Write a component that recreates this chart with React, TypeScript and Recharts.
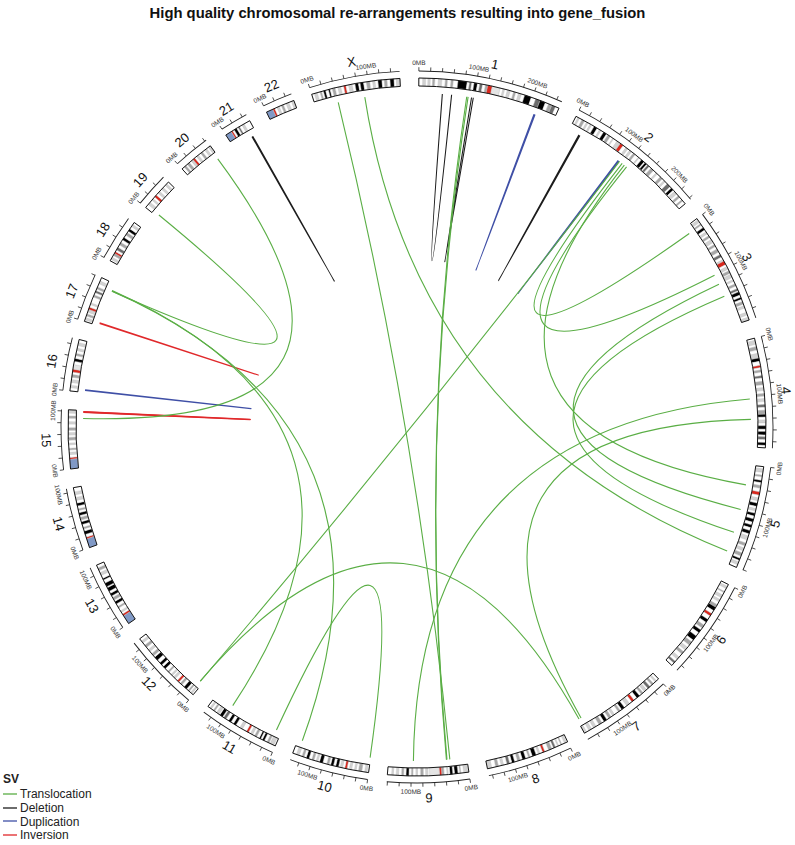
import React from 'react'
import { PieChart, Pie, Cell, Customized } from 'recharts'

const chromosomes = ['1', '2', '3', '4', '5', '6', '7', '8', '9', '10', '11', '12', '13', '14', '15', '16', '17', '18', '19', '20', '21', '22', 'X']
const chromosomeSizes = [249.25, 243.2, 198.0, 191.15, 180.9, 171.1, 159.1, 146.4, 141.2, 135.5, 135.0, 133.85, 115.2, 107.35, 102.5, 90.35, 81.2, 78.1, 59.1, 63.0, 48.1, 51.3, 155.3]

// band end (MB) + stain, one list per chromosome
const cytobands: [number, string][][] = [
  [[7,'n'],[12,'l'],[16,'n'],[20,'l'],[24,'n'],[28,'m'],[34,'n'],[40,'l'],[46,'n'],[50,'m'],[56,'n'],[60,'m'],[68,'n'],[84,'k'],[88,'n'],[92,'d'],[96,'n'],[102,'k'],[106,'n'],[111,'d'],[116,'n'],[120,'m'],[128,'c'],[142,'v'],[147,'n'],[150,'l'],[155,'n'],[160,'l'],[166,'n'],[170,'m'],[175,'n'],[180,'l'],[186,'n'],[198,'k'],[206,'n'],[214,'d'],[224,'k'],[230,'n'],[236,'m'],[243,'d'],[249.25,'n']],
  [[4,'n'],[7,'l'],[12,'n'],[17,'m'],[21,'n'],[24,'l'],[28,'n'],[31,'l'],[36,'n'],[42,'k'],[47,'n'],[50,'l'],[55,'n'],[61,'k'],[64,'n'],[69,'m'],[74,'n'],[76,'l'],[83,'n'],[90,'l'],[96,'c'],[102,'n'],[106,'l'],[110,'n'],[114,'l'],[118,'n'],[122,'m'],[129,'n'],[131,'l'],[136,'n'],[142,'k'],[144,'n'],[148,'k'],[150,'n'],[154,'d'],[158,'n'],[164,'m'],[170,'n'],[173,'l'],[180,'n'],[185,'m'],[189,'n'],[192,'l'],[197,'n'],[204,'d'],[207,'n'],[212,'k'],[215,'n'],[221,'l'],[225,'n'],[229,'m'],[234,'n'],[237,'m'],[243.2,'n']],
  [[3,'n'],[8,'l'],[11,'n'],[14,'m'],[19,'n'],[24,'k'],[28,'n'],[32,'l'],[36,'n'],[40,'m'],[44,'n'],[50,'l'],[54,'n'],[58,'m'],[63,'n'],[69,'m'],[74,'n'],[79,'d'],[84,'n'],[87,'l'],[94,'c'],[98,'n'],[103,'l'],[106,'n'],[111,'m'],[113,'n'],[119,'l'],[123,'n'],[126,'l'],[131,'n'],[135,'m'],[140,'n'],[144,'d'],[146,'n'],[152,'k'],[156,'n'],[160,'k'],[164,'n'],[169,'m'],[172,'n'],[176,'l'],[184,'n'],[189,'l'],[193,'n'],[198,'l']],
  [[4,'n'],[11,'l'],[15,'n'],[21,'m'],[27,'n'],[35,'l'],[41,'k'],[48,'n'],[52,'c'],[56,'n'],[60,'m'],[66,'n'],[70,'d'],[76,'n'],[82,'m'],[87,'n'],[92,'l'],[97,'n'],[102,'m'],[106,'n'],[111,'l'],[116,'n'],[121,'d'],[126,'n'],[133,'m'],[138,'k'],[143,'n'],[148,'l'],[153,'n'],[159,'k'],[163,'n'],[169,'k'],[172,'n'],[177,'d'],[182,'n'],[187,'k'],[191.15,'n']],
  [[4,'n'],[10,'l'],[15,'n'],[18,'m'],[24,'n'],[28,'k'],[33,'n'],[38,'m'],[44,'n'],[50,'c'],[55,'n'],[60,'l'],[64,'n'],[70,'k'],[74,'n'],[78,'l'],[82,'n'],[87,'k'],[92,'n'],[98,'k'],[103,'n'],[108,'k'],[113,'n'],[119,'k'],[123,'n'],[130,'l'],[136,'n'],[141,'m'],[145,'n'],[150,'l'],[154,'n'],[160,'m'],[164,'n'],[168,'k'],[171,'n'],[176,'l'],[180.9,'n']],
  [[4,'n'],[8,'l'],[14,'n'],[16,'m'],[21,'n'],[26,'l'],[30,'n'],[34,'l'],[40,'n'],[45,'m'],[52,'k'],[58,'n'],[63,'c'],[70,'n'],[76,'k'],[82,'n'],[88,'m'],[92,'n'],[98,'k'],[105,'n'],[114,'k'],[118,'n'],[125,'m'],[130,'n'],[136,'l'],[140,'n'],[145,'m'],[152,'n'],[157,'l'],[162,'n'],[166,'d'],[171.1,'n']],
  [[5,'n'],[8,'l'],[12,'n'],[16,'m'],[20,'n'],[25,'d'],[28,'n'],[33,'l'],[36,'n'],[40,'m'],[44,'n'],[50,'k'],[56,'n'],[61,'c'],[66,'n'],[72,'l'],[77,'n'],[83,'k'],[86,'n'],[90,'m'],[98,'n'],[102,'l'],[105,'n'],[110,'m'],[114,'n'],[120,'k'],[124,'n'],[130,'m'],[136,'n'],[141,'l'],[145,'n'],[150,'l'],[155,'n'],[159.1,'l']],
  [[2,'n'],[6,'l'],[11,'n'],[13,'m'],[17,'n'],[19,'l'],[23,'n'],[27,'d'],[30,'n'],[36,'m'],[43,'n'],[47,'c'],[52,'n'],[55,'l'],[59,'n'],[66,'k'],[70,'n'],[73,'m'],[78,'n'],[84,'k'],[88,'n'],[93,'m'],[98,'n'],[103,'k'],[107,'n'],[112,'d'],[118,'n'],[122,'l'],[127,'n'],[132,'m'],[139,'n'],[146.4,'l']],
  [[2,'n'],[9,'l'],[14,'n'],[16,'m'],[19,'n'],[25,'k'],[28,'n'],[33,'k'],[36,'n'],[38,'l'],[43,'n'],[47,'m'],[51,'c'],[68,'v'],[71,'n'],[75,'l'],[79,'n'],[84,'m'],[89,'n'],[92,'l'],[97,'n'],[100,'m'],[104,'n'],[109,'k'],[113,'n'],[117,'m'],[122,'n'],[126,'l'],[131,'n'],[134,'l'],[141.2,'n']],
  [[3,'n'],[7,'l'],[12,'n'],[18,'m'],[22,'n'],[25,'l'],[30,'n'],[34,'l'],[38,'n'],[42,'c'],[46,'n'],[50,'l'],[53,'n'],[58,'k'],[62,'n'],[67,'k'],[70,'n'],[74,'m'],[81,'n'],[87,'k'],[90,'n'],[93,'l'],[97,'n'],[101,'m'],[106,'n'],[111,'k'],[115,'n'],[119,'m'],[124,'n'],[129,'l'],[135.5,'n']],
  [[3,'n'],[10,'l'],[12,'n'],[16,'m'],[21,'n'],[25,'k'],[28,'n'],[31,'k'],[36,'n'],[40,'m'],[44,'n'],[48,'l'],[52,'n'],[56,'c'],[64,'n'],[69,'l'],[77,'n'],[82,'k'],[87,'n'],[92,'k'],[97,'n'],[102,'d'],[104,'n'],[110,'k'],[112,'n'],[117,'l'],[121,'n'],[124,'m'],[128,'n'],[131,'l'],[135,'n']],
  [[3,'n'],[6,'l'],[9,'n'],[12,'m'],[15,'n'],[21,'k'],[26,'n'],[30,'m'],[33,'n'],[37,'c'],[42,'n'],[46,'l'],[49,'n'],[52,'l'],[57,'n'],[60,'m'],[66,'n'],[71,'k'],[75,'n'],[80,'k'],[86,'n'],[93,'k'],[96,'n'],[101,'m'],[106,'n'],[110,'l'],[115,'n'],[120,'m'],[125,'n'],[129,'l'],[133.85,'n']],
  [[16,'s'],[19.5,'c'],[23,'n'],[26,'l'],[32,'n'],[35,'m'],[40,'n'],[45,'k'],[48,'n'],[53,'m'],[56,'n'],[61,'k'],[65,'n'],[72,'k'],[74,'n'],[81,'k'],[87,'n'],[90,'k'],[96,'n'],[101,'l'],[105,'n'],[110,'m'],[115.2,'n']],
  [[16,'s'],[19,'c'],[24,'n'],[30,'k'],[34,'n'],[37,'m'],[42,'n'],[47,'k'],[50,'n'],[55,'m'],[58,'n'],[63,'k'],[67,'n'],[70,'m'],[75,'n'],[80,'k'],[85,'n'],[90,'l'],[95,'n'],[100,'l'],[107.35,'n']],
  [[17,'s'],[20,'c'],[25,'n'],[29,'l'],[33,'n'],[36,'m'],[42,'n'],[45,'l'],[50,'n'],[55,'m'],[59,'n'],[63,'l'],[67,'n'],[72,'m'],[78,'n'],[82,'l'],[88,'n'],[92,'m'],[97,'n'],[102.5,'l']],
  [[6,'n'],[10,'l'],[15,'n'],[20,'l'],[24,'n'],[29,'m'],[33,'n'],[38,'c'],[46,'v'],[52,'n'],[57,'k'],[62,'n'],[66,'m'],[71,'n'],[75,'l'],[80,'n'],[85,'l'],[90.35,'n']],
  [[3,'n'],[7,'l'],[10,'n'],[14,'m'],[17,'n'],[22,'l'],[26,'c'],[31,'n'],[34,'l'],[45,'n'],[49,'m'],[53,'n'],[57,'d'],[60,'n'],[64,'m'],[70,'n'],[75,'l'],[81.2,'n']],
  [[3,'n'],[7,'l'],[11,'n'],[15,'m'],[18.5,'c'],[22,'n'],[27,'d'],[32,'n'],[37,'m'],[42,'n'],[47,'k'],[52,'n'],[57,'m'],[60,'n'],[65,'k'],[70,'n'],[74,'l'],[78.1,'n']],
  [[7,'n'],[12,'l'],[17,'n'],[20,'l'],[24,'n'],[28.5,'c'],[33,'n'],[37,'l'],[42,'n'],[46,'l'],[51,'n'],[55,'l'],[59.1,'n']],
  [[5,'n'],[9,'m'],[12,'n'],[17,'m'],[21,'n'],[25,'l'],[29,'c'],[33,'n'],[37,'l'],[42,'n'],[46,'m'],[51,'n'],[55,'l'],[59,'n'],[63,'l']],
  [[11,'s'],[14,'c'],[17,'n'],[22,'k'],[25,'n'],[28,'d'],[33,'n'],[37,'l'],[48.1,'n']],
  [[12,'s'],[15.5,'c'],[20,'n'],[24,'l'],[28,'n'],[32,'m'],[37,'n'],[42,'l'],[47,'n'],[51.3,'l']],
  [[5,'n'],[10,'l'],[15,'n'],[18,'m'],[21,'n'],[25,'k'],[30,'n'],[33,'k'],[37,'n'],[42,'m'],[47,'n'],[52,'l'],[57,'n'],[61,'c'],[66,'n'],[72,'l'],[77,'n'],[83,'k'],[86,'n'],[92,'k'],[97,'n'],[103,'m'],[108,'n'],[112,'l'],[117,'n'],[124,'k'],[128,'n'],[133,'m'],[138,'n'],[145,'k'],[149,'n'],[155.3,'l']],
]
const stainColors: Record<string, string> = {
  n: '#ffffff', l: '#d2d2d2', m: '#a6a6a6', d: '#6c6c6c', k: '#000000', c: '#d9261c', v: '#e4e4e4', s: '#8099c6',
}

const svTypes = ['Translocation', 'Deletion', 'Duplication', 'Inversion']
const svColors = ['#5aae45', '#1c1c1c', '#3f4fa6', '#e0282a']

// [type, chrA, MB, chrB, MB]
const links: [string, string, number, string, number][] = [
  ['Deletion', '1', 42.6, '1', 59.4],
  ['Deletion', '1', 95.7, '1', 98.9],
  ['Deletion', '2', 20.0, '2', 22.0],
  ['Deletion', '21', 38.0, '21', 39.5],
  ['Duplication', '1', 212.5, '1', 214.5],
  ['Duplication', '2', 104.5, '2', 106.5],
  ['Duplication', '16', 3.5, '16', 4.8],
  ['Inversion', '17', 4.6, '17', 5.8],
  ['Inversion', '15', 99.0, '15', 100.0],
  ['Inversion', '15', 99.6, '15', 100.6],
  ['Translocation', '1', 86.9, '9', 35.8],
  ['Translocation', '1', 89.4, '9', 36.8],
  ['Translocation', 'X', 41.3, '9', 30.6],
  ['Translocation', '4', 104.5, '9', 96.4],
  ['Translocation', '4', 141.3, '7', 151.3],
  ['Translocation', '7', 155.5, '12', 6.1],
  ['Translocation', '2', 107.5, '12', 5.6],
  ['Translocation', '2', 113.6, '3', 13.4],
  ['Translocation', '2', 123.7, '3', 101.5],
  ['Translocation', '2', 118.5, '5', 36.2],
  ['Translocation', '3', 119.6, '5', 81.6],
  ['Translocation', '3', 143.3, '5', 124.7],
  ['Translocation', 'X', 90.2, '5', 160.5],
  ['Translocation', '10', 1.0, '11', 9.7],
  ['Translocation', '17', 67.4, '10', 127.3],
  ['Translocation', '17', 68.2, '11', 100.1],
  ['Translocation', '17', 67.0, '19', 4.5],
  ['Translocation', '20', 59.8, '15', 88.1],
]

const TICK_STEP = 20
const LABEL_STEP = 100

// layout
const CX = 417
const CY = 427
const START = 0.3
const GAP = 3.1
const R_IN = 341
const R_OUT = 349
const R_AXIS = 356
const R_LINK = 334
const R_NAME = 371
const FONT = '"Liberation Sans", Arial, Helvetica, sans-serif'

const TOTAL = chromosomeSizes.reduce((a, b) => a + b, 0)
const DEG_PER_MB = (360 - GAP * chromosomes.length) / TOTAL
const chrStart = chromosomeSizes.map(
  (_, i) => START + chromosomeSizes.slice(0, i).reduce((a, b) => a + b, 0) * DEG_PER_MB + i * GAP
)
const angleOf = (chr: string, mb: number) => chrStart[chromosomes.indexOf(chr)] + mb * DEG_PER_MB
const polar = (deg: number, r: number) => {
  const rad = (deg * Math.PI) / 180
  return [CX + r * Math.sin(rad), CY - r * Math.cos(rad)]
}
const upright = (deg: number) => (deg > 90 && deg < 270 ? deg - 180 : deg)

// chromosome + gap segments for the full ring
const ringData = chromosomes.flatMap((c, i) => [
  { name: c, len: chromosomeSizes[i], gap: false },
  { name: c + '-gap', len: GAP / DEG_PER_MB, gap: true },
])

const Decorations = () => (
  <g>
    {links.map(([type, c1, p1, c2, p2], i) => {
      const [x1, y1] = polar(angleOf(c1, p1), R_LINK)
      const [x2, y2] = polar(angleOf(c2, p2), R_LINK)
      return (
        <path
          key={'l' + i}
          d={`M${x1},${y1} Q${CX},${CY} ${x2},${y2}`}
          fill="none"
          stroke={svColors[svTypes.indexOf(type)]}
          strokeWidth={1.1}
        />
      )
    })}
    {chromosomes.map((c, i) => {
      const ticks = []
      for (let mb = 0; mb <= chromosomeSizes[i]; mb += TICK_STEP) ticks.push(mb)
      const mid = chrStart[i] + (chromosomeSizes[i] * DEG_PER_MB) / 2
      const [lx, ly] = polar(mid, R_NAME)
      return (
        <g key={'t' + c}>
          {ticks.map((mb) => {
            const a = angleOf(c, mb)
            const [x1, y1] = polar(a, R_AXIS)
            const [x2, y2] = polar(a, R_AXIS + 3.8)
            const [tx, ty] = polar(a, 364.5)
            return (
              <g key={mb}>
                <line x1={x1} y1={y1} x2={x2} y2={y2} stroke="#222" strokeWidth={0.8} />
                {mb % LABEL_STEP === 0 && (
                  <text
                    x={tx}
                    y={ty}
                    fontSize={6.5}
                    fontFamily={FONT}
                    fill="#333"
                    textAnchor="middle"
                    dominantBaseline="central"
                    transform={`rotate(${upright(a)} ${tx} ${ty})`}
                  >
                    {mb}MB
                  </text>
                )}
              </g>
            )
          })}
          <text
            x={lx}
            y={ly}
            fontSize={13}
            fontFamily={FONT}
            fill="#111"
            textAnchor="middle"
            dominantBaseline="central"
            transform={`rotate(${upright(mid)} ${lx} ${ly})`}
          >
            {c}
          </text>
        </g>
      )
    })}
  </g>
)

const Legend = () => (
  <div style={{ position: 'absolute', left: 3, top: 772, fontFamily: FONT, color: '#222' }}>
    <div style={{ fontWeight: 'bold', fontSize: 12, lineHeight: '15px' }}>SV</div>
    {svTypes.map((t, i) => (
      <div key={t} style={{ display: 'flex', alignItems: 'center', height: 13.8, fontSize: 12 }}>
        <svg width={17} height={10} style={{ display: 'block' }}>
          <line x1={0} y1={5} x2={14} y2={5} stroke={svColors[i]} strokeWidth={1.3} />
        </svg>
        <span>{t}</span>
      </div>
    ))}
  </div>
)

export default function App() {
  return (
    <div style={{ position: 'absolute', left: 0, top: 0, width: 795, height: 845, background: '#fff' }}>
      <div
        style={{
          position: 'absolute',
          top: 5,
          left: 0,
          width: 795,
          textAlign: 'center',
          fontFamily: FONT,
          fontWeight: 'bold',
          fontSize: 14.8,
          lineHeight: '16px',
          color: '#111',
        }}
      >
        High quality chromosomal re-arrangements resulting into gene_fusion
      </div>
      <PieChart width={795} height={845} margin={{ top: 0, right: 0, bottom: 0, left: 0 }}>
        {chromosomes.map((c, i) => {
          const bands = cytobands[i].map(([end, stain], j, arr) => ({
            len: end - (j ? arr[j - 1][0] : 0),
            stain,
          }))
          const a0 = chrStart[i]
          const a1 = a0 + chromosomeSizes[i] * DEG_PER_MB
          return (
            <Pie
              key={'b' + c}
              data={bands}
              dataKey="len"
              cx={CX}
              cy={CY}
              innerRadius={R_IN}
              outerRadius={R_OUT}
              startAngle={90 - a0}
              endAngle={90 - a1}
              isAnimationActive={false}
              label={false}
              labelLine={false}
            >
              {bands.map((b, j) => (
                <Cell key={j} fill={stainColors[b.stain]} stroke="#c2c2c2" strokeWidth={0.4} />
              ))}
            </Pie>
          )
        })}
        <Pie
          data={ringData}
          dataKey="len"
          cx={CX}
          cy={CY}
          innerRadius={R_IN}
          outerRadius={R_OUT}
          startAngle={90 - START}
          endAngle={90 - START - 360}
          isAnimationActive={false}
          label={false}
          labelLine={false}
        >
          {ringData.map((d) => (
            <Cell key={d.name} fill="none" stroke={d.gap ? 'none' : '#000'} strokeWidth={0.9} />
          ))}
        </Pie>
        <Pie
          data={ringData}
          dataKey="len"
          cx={CX}
          cy={CY}
          innerRadius={R_AXIS - 0.45}
          outerRadius={R_AXIS + 0.45}
          startAngle={90 - START}
          endAngle={90 - START - 360}
          isAnimationActive={false}
          label={false}
          labelLine={false}
        >
          {ringData.map((d) => (
            <Cell key={d.name} fill={d.gap ? 'none' : '#222'} stroke="none" />
          ))}
        </Pie>
        <Customized component={<Decorations />} />
      </PieChart>
      <Legend />
    </div>
  )
}
